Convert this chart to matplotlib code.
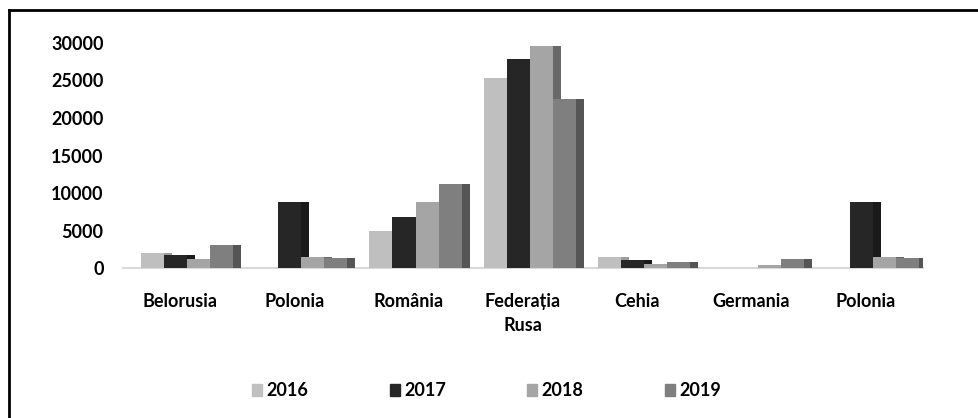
import matplotlib.pyplot as plt
from matplotlib.lines import Line2D
from matplotlib.patches import Patch

countries = ["Belorusia", "Polonia", "România", "Federația\nRusa", "Cehia", "Germania", "Polonia"]
years = ["2016", "2017", "2018", "2019"]
v2016 = [2000, 0, 4900, 25300, 1500, 0, 0]
v2017 = [1750, 8850, 6850, 27900, 1150, 0, 8850]
v2018 = [1250, 1500, 8850, 29600, 570, 440, 1540]
v2019 = [3100, 1330, 11200, 22500, 880, 1200, 1330]
yticks = [0, 5000, 10000, 15000, 20000, 25000, 30000]

series = [v2016, v2017, v2018, v2019]
front = ["#bfbfbf", "#262626", "#a5a5a5", "#7f7f7f"]
side = ["#9c9c9c", "#1a1a1a", "#686868", "#555555"]

plt.rcParams["font.family"] = ["Lato", "DejaVu Sans"]
plt.rcParams["font.weight"] = "bold"

fig = plt.figure(figsize=(9.79, 4.18), dpi=100)
ax = fig.add_axes([0.1256, 0.3581, 0.8172, 0.5397])

w = 0.2013      # front face width
depth = 0.07    # side face width (fake 3d)
start = -0.343  # left edge of first bar relative to category centre

for j, vals in enumerate(series):
    for i, v in enumerate(vals):
        if v <= 0:
            continue
        left = i + start + j * w
        ax.bar(left + w, v, width=depth, align="edge", color=side[j], zorder=2 + j)
        ax.bar(left, v, width=w, align="edge", color=front[j], zorder=2 + j)

ax.set_xlim(-0.5, len(countries) - 0.5)
ax.set_ylim(0, 30000)
ax.set_xticks(range(len(countries)))
ax.set_xticklabels(countries, linespacing=1.5)
ax.set_yticks(yticks)
ax.set_yticklabels([str(t) for t in yticks])
ax.tick_params(axis="both", length=0, labelsize=13)
ax.tick_params(axis="x", pad=18)
ax.tick_params(axis="y", pad=14)
for s in ["top", "right", "left"]:
    ax.spines[s].set_visible(False)
ax.spines["bottom"].set_color("#d9d9d9")
ax.spines["bottom"].set_linewidth(1.5)
ax.spines["bottom"].set_zorder(1)

handles = [Patch(color=c) for c in front]
fig.legend(handles, years, loc="center", bbox_to_anchor=(0.497, 0.065), ncol=4,
           frameon=False, fontsize=13, handlelength=0.55, handleheight=0.6,
           handletextpad=0.25, columnspacing=4.5)

# outer frame (left and top edges only)
fig.add_artist(Line2D([9 / 979, 9 / 979], [0, 1 - 10 / 418], transform=fig.transFigure,
                      color="black", linewidth=2))
fig.add_artist(Line2D([9 / 979, 1], [1 - 10 / 418, 1 - 10 / 418], transform=fig.transFigure,
                      color="black", linewidth=2))

fig.savefig("out.png", dpi=100, facecolor="white")
